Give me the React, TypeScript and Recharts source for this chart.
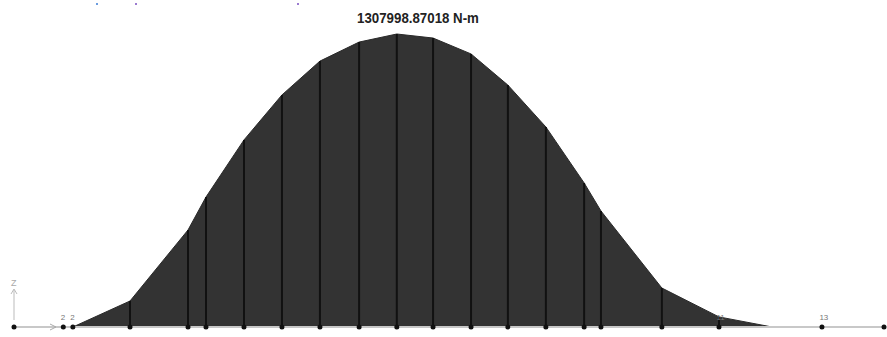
import { ComposedChart, Area, Scatter, XAxis, YAxis, ReferenceLine, LabelList } from 'recharts';

// stations along the member (m) and bending moment (N-m)
const stations = [2.03, 4.0, 6.0, 6.62, 7.93, 9.24, 10.55, 11.9, 13.2, 14.45, 15.76, 17.03, 18.34, 19.66, 20.24, 22.34, 24.31, 26.14];
const moments = [0, 116000, 433000, 580000, 835000, 1036000, 1187000, 1272000, 1307998.87, 1290000, 1219000, 1080000, 893000, 643000, 518000, 174000, 45000, 0];

// frame joints and their labels
const jointX = [0, 1.7, 2.03, 4.0, 6.0, 6.62, 7.93, 9.24, 10.55, 11.9, 13.2, 14.45, 15.76, 17.03, 18.34, 19.66, 20.24, 22.34, 24.31, 27.86, 30];
const jointLabels = ['', '2', '2', '', '', '', '', '', '', '', '', '', '', '', '', '', '', '', '11', '13', ''];

const peakLabel = '1307998.87018 N-m';

const momentData = stations.map((x, i) => ({ x, m: moments[i] }));
const jointData = jointX.map((x, i) => ({ x, m: 0, label: jointLabels[i] }));

const W = 887;
const H = 337;
const font = '"Liberation Sans", Arial, sans-serif';

const JointLabel = (p: any) => {
  if (!p.value) return null;
  return (
    <text x={p.x + 2} y={p.y - 2} fontSize={8} fill="#777" fontFamily={font}>
      {p.value}
    </text>
  );
};

export default function App() {
  return (
    <div style={{ position: 'absolute', left: 0, top: 0, width: W, height: H, background: '#fff' }}>
      <ComposedChart width={W} height={H} data={momentData} margin={{ top: 34, right: 3, bottom: 10, left: 14 }}>
        <XAxis type="number" dataKey="x" domain={[0, 30]} hide />
        <YAxis type="number" domain={[0, 1307998.87]} hide />
        <ReferenceLine y={0} stroke="#c8c8c8" strokeWidth={2} />
        <Area
          type="linear"
          dataKey="m"
          stroke="#2a2a2a"
          strokeWidth={1}
          fill="#333333"
          fillOpacity={1}
          isAnimationActive={false}
          dot={false}
          activeDot={false}
        />
        {stations.map((x, i) =>
          moments[i] > 0 ? (
            <ReferenceLine
              key={i}
              segment={[{ x, y: 0 }, { x, y: moments[i] }]}
              stroke="#111"
              strokeWidth={2}
            />
          ) : null
        )}
        <Scatter data={jointData} dataKey="m" fill="#111" shape={(p: any) => <circle cx={p.cx} cy={p.cy} r={2.5} fill="#111" />} isAnimationActive={false}>
          <LabelList dataKey="label" content={JointLabel} />
        </Scatter>
      </ComposedChart>
      <svg style={{ position: 'absolute', left: 0, top: 0, pointerEvents: 'none' }} width={W} height={H}>
        <text x={418} y={23} textAnchor="middle" fontSize={14} fontWeight={700} fill="#222" fontFamily={font} transform="translate(418,0) scale(0.95,1) translate(-418,0)">
          {peakLabel}
        </text>
        <line x1={14} y1={320} x2={14} y2={290} stroke="#bbb" strokeWidth={1} />
        <path d="M11,294 L14,289 L17,294" fill="none" stroke="#bbb" strokeWidth={1} />
        <text x={11} y={286} fontSize={9} fill="#aaa" fontFamily={font}>Z</text>
        <path d="M50,324 L56,327 L50,330" fill="none" stroke="#aaa" strokeWidth={1} />
        <circle cx={97} cy={4} r={1} fill="#3a7bd5" />
        <circle cx={136} cy={4} r={1} fill="#7a4fc0" />
        <circle cx={298} cy={4} r={1} fill="#7a4fc0" />
      </svg>
    </div>
  );
}
